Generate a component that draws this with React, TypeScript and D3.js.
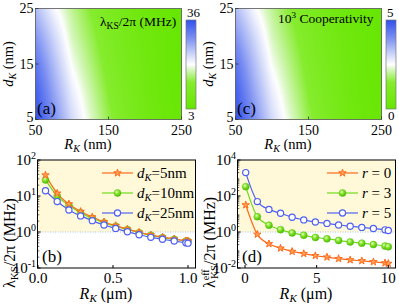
import React, { useMemo } from "react";
import * as d3 from "d3";

const FONT = "Liberation Serif, Times New Roman, serif";

// ---------- (a) / (c) heat maps ----------
const heatR = [50, 75, 100, 125, 150, 175, 200, 225, 250];
const heatD = [5, 10, 15, 20, 25];
const lambdaKS = [
  [36, 29.4, 22.8, 18.2, 13.9, 10.3, 7.3, 5.3, 4.0],
  [34.4, 27.4, 21.2, 16.9, 12.9, 9.6, 7.0, 5.0, 4.0],
  [32.0, 25.4, 19.2, 15.5, 11.9, 8.9, 6.6, 4.7, 3.7],
  [28.7, 23.1, 17.5, 14.2, 10.9, 8.3, 6.3, 4.7, 3.7],
  [25.4, 20.2, 16.2, 12.9, 9.9, 7.6, 5.6, 4.3, 3.3],
];
const cooperativity = [
  [5.0, 4.0, 3.0, 2.3, 1.65, 1.1, 0.65, 0.35, 0.15],
  [4.75, 3.7, 2.75, 2.1, 1.5, 1.0, 0.6, 0.3, 0.15],
  [4.4, 3.4, 2.45, 1.9, 1.35, 0.9, 0.55, 0.25, 0.1],
  [3.9, 3.05, 2.2, 1.7, 1.2, 0.8, 0.5, 0.25, 0.1],
  [3.4, 2.6, 2.0, 1.5, 1.05, 0.7, 0.4, 0.2, 0.05],
];
const lambdaBar = [3, 36];
const coopBar = [0, 5];
const heatRTicks = [50, 150, 250];
const heatDTicks = [5, 15, 25];

// ---------- (b) ----------
const bRK = [0.05, 0.128, 0.206, 0.284, 0.362, 0.44, 0.518, 0.596, 0.674, 0.752, 0.83, 0.908, 0.986, 1.0];
const bD5 = [38, 11.9, 6.0, 3.7, 2.6, 1.9, 1.5, 1.2, 0.98, 0.83, 0.72, 0.64, 0.57, 0.56];
const bD10 = [28, 10, 5.5, 3.4, 2.4, 1.8, 1.45, 1.17, 0.96, 0.81, 0.7, 0.63, 0.56, 0.55];
const bD25 = [14, 7, 4.1, 2.8, 2.07, 1.56, 1.26, 1.02, 0.84, 0.71, 0.63, 0.56, 0.5, 0.49];
const bXTicks = [0, 0.5, 1.0];
const bYExp = [-1, 0, 1, 2];
const bLegend = ["5nm", "10nm", "25nm"];

// ---------- (d) ----------
const dRK = [0.05, 0.86, 1.67, 2.48, 3.29, 4.1, 4.91, 5.72, 6.53, 7.34, 8.15, 8.96, 9.77, 10.0];
const dR0 = [31.6, 0.74, 0.22, 0.126, 0.083, 0.063, 0.048, 0.04, 0.033, 0.028, 0.025, 0.022, 0.019, 0.0178];
const dR3 = [330, 7.1, 2.4, 1.35, 0.89, 0.66, 0.5, 0.42, 0.34, 0.28, 0.24, 0.2, 0.166, 0.151];
const dR5 = [2000, 49, 18, 11, 6.6, 4.7, 3.6, 3.0, 2.45, 2.1, 1.8, 1.55, 1.32, 1.2];
const dXTicks = [0, 5, 10];
const dYExp = [-2, 0, 2, 4];
const dLegend = ["0", "3", "5"];

const ORANGE = "#FF6A1A";
const GREEN = "#6EDB1C";
const BLUE = "#5060F4";

const cmapStops = [0, 0.3, 0.45, 0.5, 0.6, 0.8, 1];
const cmapColors = ["#66E600", "#86EC2E", "#DDF8C8", "#FFFFFF", "#D4DBFA", "#7A8EF2", "#3050EC"];
const cmap = d3
  .scaleLinear<string>()
  .domain(cmapStops)
  .range(cmapColors)
  .interpolate(d3.interpolateRgb)
  .clamp(true);

function heatImage(grid: number[][], range: number[], w: number, h: number) {
  const W = Math.round(w * 2);
  const H = Math.round(h * 2);
  const c = document.createElement("canvas");
  c.width = W;
  c.height = H;
  const ctx = c.getContext("2d");
  if (!ctx) return "";
  const img = ctx.createImageData(W, H);
  const rPix = d3.scaleLinear().domain([0, W]).range([heatR[0], heatR[heatR.length - 1]]);
  const dPix = d3.scaleLinear().domain([0, H]).range([heatD[heatD.length - 1], heatD[0]]);
  const fx = d3.scaleLinear().domain(heatR).range(heatR.map((_, i) => i)).clamp(true);
  const fy = d3.scaleLinear().domain(heatD).range(heatD.map((_, i) => i)).clamp(true);
  const norm = d3.scaleLinear().domain(range).range([0, 1]).clamp(true);
  for (let j = 0; j < H; j++) {
    const gy = fy(dPix(j + 0.5));
    const j0 = Math.min(Math.floor(gy), heatD.length - 2);
    const ty = gy - j0;
    for (let i = 0; i < W; i++) {
      const gx = fx(rPix(i + 0.5));
      const i0 = Math.min(Math.floor(gx), heatR.length - 2);
      const tx = gx - i0;
      const v =
        (1 - tx) * (1 - ty) * grid[j0][i0] +
        tx * (1 - ty) * grid[j0][i0 + 1] +
        (1 - tx) * ty * grid[j0 + 1][i0] +
        tx * ty * grid[j0 + 1][i0 + 1];
      const col = d3.rgb(cmap(norm(v)));
      const k = (j * W + i) * 4;
      img.data[k] = col.r;
      img.data[k + 1] = col.g;
      img.data[k + 2] = col.b;
      img.data[k + 3] = 255;
    }
  }
  ctx.putImageData(img, 0, 0);
  return c.toDataURL();
}

function HeatPanel({ dx, grid, range, title, tag, barLabels }: any) {
  const L = 35.5 + dx, R = 181.5 + dx, T = 8.5, B = 119.5;
  const xs = d3.scaleLinear().domain([heatR[0], heatR[heatR.length - 1]]).range([L, R]);
  const ys = d3.scaleLinear().domain([heatD[0], heatD[heatD.length - 1]]).range([B, T]);
  const url = useMemo(() => heatImage(grid, range, R - L, B - T), [grid, range]);
  const gid = "cb" + dx;
  const cbL = 186 + dx, cbT = 20, cbB = 109;
  return (
    <g>
      <defs>
        <linearGradient id={gid} x1="0" y1="1" x2="0" y2="0">
          {cmapStops.map((s, i) => (
            <stop key={i} offset={s} stopColor={cmapColors[i]} />
          ))}
        </linearGradient>
      </defs>
      <image href={url} x={L} y={T} width={R - L} height={B - T} preserveAspectRatio="none" />
      <rect x={L} y={T} width={R - L} height={B - T} fill="none" stroke="#555" strokeWidth={0.8} />
      {heatRTicks.map((t) => (
        <g key={t}>
          <line x1={xs(t)} x2={xs(t)} y1={B} y2={B - 3} stroke="#333" strokeWidth={0.8} />
          <text x={xs(t)} y={135} fontSize={14} textAnchor="middle">{t}</text>
        </g>
      ))}
      {heatDTicks.map((t) => (
        <g key={t}>
          <line x1={L} x2={L + 3} y1={ys(t)} y2={ys(t)} stroke="#333" strokeWidth={0.8} />
          <text x={L - 2} y={ys(t) + (t === heatDTicks[0] ? 2.5 : 4.5)} fontSize={14} textAnchor="end">{t}</text>
        </g>
      ))}
      <text x={88 + dx} y={149} fontSize={14.5} textAnchor="middle">
        <tspan fontStyle="italic">R</tspan>
        <tspan fontStyle="italic" fontSize={10} dy={3}>K</tspan>
        <tspan dy={-3}> (nm)</tspan>
      </text>
      <text transform={`translate(${13 + dx},64) rotate(-90)`} fontSize={14.5} textAnchor="middle">
        <tspan fontStyle="italic">d</tspan>
        <tspan fontStyle="italic" fontSize={10} dy={3}>K</tspan>
        <tspan dy={-3}> (nm)</tspan>
      </text>
      <text x={37 + dx} y={114} fontSize={17}>{tag}</text>
      {title}
      <rect x={cbL} y={cbT} width={10} height={cbB - cbT} fill={`url(#${gid})`} stroke="#777" strokeWidth={0.7} />
      <text x={cbL + 1} y={17} fontSize={13}>{barLabels[1]}</text>
      <text x={cbL + 2} y={119.5} fontSize={13}>{barLabels[0]}</text>
    </g>
  );
}

function Star({ x, y, s = 17 }: any) {
  return (
    <path
      d={d3.symbol(d3.symbolStar, s)() || ""}
      transform={`translate(${x},${y})`}
      fill="#FFA35A"
      stroke={ORANGE}
      strokeWidth={1}
    />
  );
}
function Sphere({ x, y, r = 3.5 }: any) {
  return <circle cx={x} cy={y} r={r} fill="url(#gsphere)" stroke="#58C510" strokeWidth={0.5} />;
}
function OpenC({ x, y, r = 3.1 }: any) {
  return <circle cx={x} cy={y} r={r} fill="#fff" stroke={BLUE} strokeWidth={1.2} />;
}
const markerOf: any = { star: Star, sphere: Sphere, open: OpenC };

function LogPanel({ dx, xs, ys, xTicks, xFmt, yExps, series, drawOrder, legendX, legendText, tag, yTitle }: any) {
  const L = 37.5 + dx, R = 195.5 + dx, T = 160, B = 268;
  const line = d3
    .line<[number, number]>()
    .x((d) => xs(d[0]))
    .y((d) => ys(d[1]))
    .curve(d3.curveMonotoneX);
  const [lo, hi] = ys.domain();
  const minors: number[] = [];
  for (let e = Math.log10(lo); e < Math.log10(hi); e++) {
    for (let m = 2; m < 10; m++) minors.push(m * Math.pow(10, e));
  }
  const ordered = drawOrder.map((i: number) => series[i]);
  return (
    <g>
      <rect x={L} y={T} width={R - L} height={ys(1) - T} fill="#FFF9DA" />
      <line x1={L} x2={R} y1={ys(1)} y2={ys(1)} stroke="#A9C6DE" strokeWidth={1} strokeDasharray="1,1.5" />
      {ordered.map((s: any, k: number) => (
        <path key={k} d={line(s.x.map((v: number, i: number) => [v, s.y[i]])) || ""} fill="none" stroke={s.color} strokeWidth={1.2} />
      ))}
      {ordered.map((s: any, k: number) => {
        const M = markerOf[s.marker];
        return (
          <g key={k}>
            {s.x.map((v: number, i: number) => (
              <M key={i} x={xs(v)} y={ys(s.y[i])} />
            ))}
          </g>
        );
      })}
      <rect x={L} y={T} width={R - L} height={B - T} fill="none" stroke="#000" strokeWidth={1} />
      {xTicks.map((t: number) => (
        <g key={t}>
          <line x1={xs(t)} x2={xs(t)} y1={B} y2={B - 3} stroke="#000" />
          <text x={xs(t)} y={283} fontSize={15} textAnchor="middle">{xFmt(t)}</text>
        </g>
      ))}
      {minors.map((m, i) => (
        <line key={i} x1={L} x2={L + 1.8} y1={ys(m)} y2={ys(m)} stroke="#000" strokeWidth={0.6} />
      ))}
      {yExps.map((e: number) => (
        <g key={e}>
          <line x1={L} x2={L + 3} y1={ys(Math.pow(10, e))} y2={ys(Math.pow(10, e))} stroke="#000" />
          <text x={L - 1.5} y={ys(Math.pow(10, e)) + 5} fontSize={15} textAnchor="end">
            <tspan>10</tspan>
            <tspan fontSize={10} dy={-6}>{e}</tspan>
          </text>
        </g>
      ))}
      {series.map((s: any, k: number) => {
        const M = markerOf[s.marker];
        const y = 173 + k * 20;
        return (
          <g key={k}>
            <line x1={legendX} x2={legendX + 31} y1={y} y2={y} stroke={s.color} strokeWidth={1.2} />
            <M x={legendX + 15.5} y={y} />
            {legendText(s, legendX + 35, y + 5)}
          </g>
        );
      })}
      <text x={106 + dx} y={299} fontSize={16} textAnchor="middle">
        <tspan fontStyle="italic">R</tspan>
        <tspan fontStyle="italic" fontSize={11} dy={3}>K</tspan>
        <tspan dy={-3}> (μm)</tspan>
      </text>
      <text x={42 + dx} y={262} fontSize={17}>{tag}</text>
      {yTitle}
    </g>
  );
}

export default function App() {
  const bxs = d3.scaleLinear().domain([0, 1]).range([38, 188]);
  const bys = d3.scaleLog().domain([0.1, 100]).range([268, 160]);
  const dxs = d3.scaleLinear().domain([0, 10]).range([245, 388.3]);
  const dys = d3.scaleLog().domain([0.01, 10000]).range([268, 160]);

  const bSeries = [
    { x: bRK, y: bD5, color: ORANGE, marker: "star", lab: bLegend[0] },
    { x: bRK, y: bD10, color: GREEN, marker: "sphere", lab: bLegend[1] },
    { x: bRK, y: bD25, color: BLUE, marker: "open", lab: bLegend[2] },
  ];
  const dSeries = [
    { x: dRK, y: dR0, color: ORANGE, marker: "star", lab: dLegend[0] },
    { x: dRK, y: dR3, color: GREEN, marker: "sphere", lab: dLegend[1] },
    { x: dRK, y: dR5, color: BLUE, marker: "open", lab: dLegend[2] },
  ];

  const titleA = (
    <text x={100} y={26} fontSize={13.5}>
      <tspan>λ</tspan>
      <tspan fontSize={9.5} dy={3}>KS</tspan>
      <tspan dy={-3}>/2π (MHz)</tspan>
    </text>
  );
  const titleC = (
    <text x={278} y={23} fontSize={13.5}>
      <tspan>10</tspan>
      <tspan fontSize={9} dy={-5}>3</tspan>
      <tspan dy={5}> Cooperativity</tspan>
    </text>
  );

  return (
    <svg
      width={399}
      height={304}
      style={{ position: "absolute", left: 0, top: 0, background: "#fff", fontFamily: FONT }}
      fontFamily={FONT}
    >
      <defs>
        <radialGradient id="gsphere" cx="38%" cy="35%" r="65%">
          <stop offset="0" stopColor="#E6FFC4" />
          <stop offset="0.45" stopColor="#86E52A" />
          <stop offset="1" stopColor="#4DB80A" />
        </radialGradient>
      </defs>
      <rect width={399} height={304} fill="#fff" />
      <HeatPanel dx={0} grid={lambdaKS} range={lambdaBar} title={titleA} tag="(a)" barLabels={["3", "36"]} />
      <HeatPanel dx={200} grid={cooperativity} range={coopBar} title={titleC} tag="(c)" barLabels={["0", "5"]} />
      <LogPanel
        dx={0}
        xs={bxs}
        ys={bys}
        xTicks={bXTicks}
        xFmt={(t: number) => t.toFixed(1)}
        yExps={bYExp}
        series={bSeries}
        drawOrder={[1, 0, 2]}
        legendX={102}
        tag="(b)"
        legendText={(s: any, x: number, y: number) => (
          <text x={x} y={y} fontSize={15}>
            <tspan fontStyle="italic">d</tspan>
            <tspan fontStyle="italic" fontSize={10.5} dy={3}>K</tspan>
            <tspan dy={-3}>={s.lab}</tspan>
          </text>
        )}
        yTitle={
          <text transform="translate(15,288) rotate(-90)" fontSize={16}>
            <tspan>λ</tspan>
            <tspan fontSize={11} dy={3}>KS</tspan>
            <tspan dy={-3}>/2π (MHz)</tspan>
          </text>
        }
      />
      <LogPanel
        dx={200}
        xs={dxs}
        ys={dys}
        xTicks={dXTicks}
        xFmt={(t: number) => String(t)}
        yExps={dYExp}
        series={dSeries}
        drawOrder={[0, 1, 2]}
        legendX={327}
        tag="(d)"
        legendText={(s: any, x: number, y: number) => (
          <text x={x} y={y} fontSize={15}>
            <tspan fontStyle="italic">r</tspan>
            <tspan> = {s.lab}</tspan>
          </text>
        )}
        yTitle={
          <text transform="translate(215,288) rotate(-90)" fontSize={16}>
            <tspan>λ</tspan>
            <tspan fontSize={10} dy={-6}>eff</tspan>
            <tspan x={9} fontSize={11} dy={9}>KS</tspan>
            <tspan dy={-3}>/2π (MHz)</tspan>
          </text>
        }
      />
    </svg>
  );
}
